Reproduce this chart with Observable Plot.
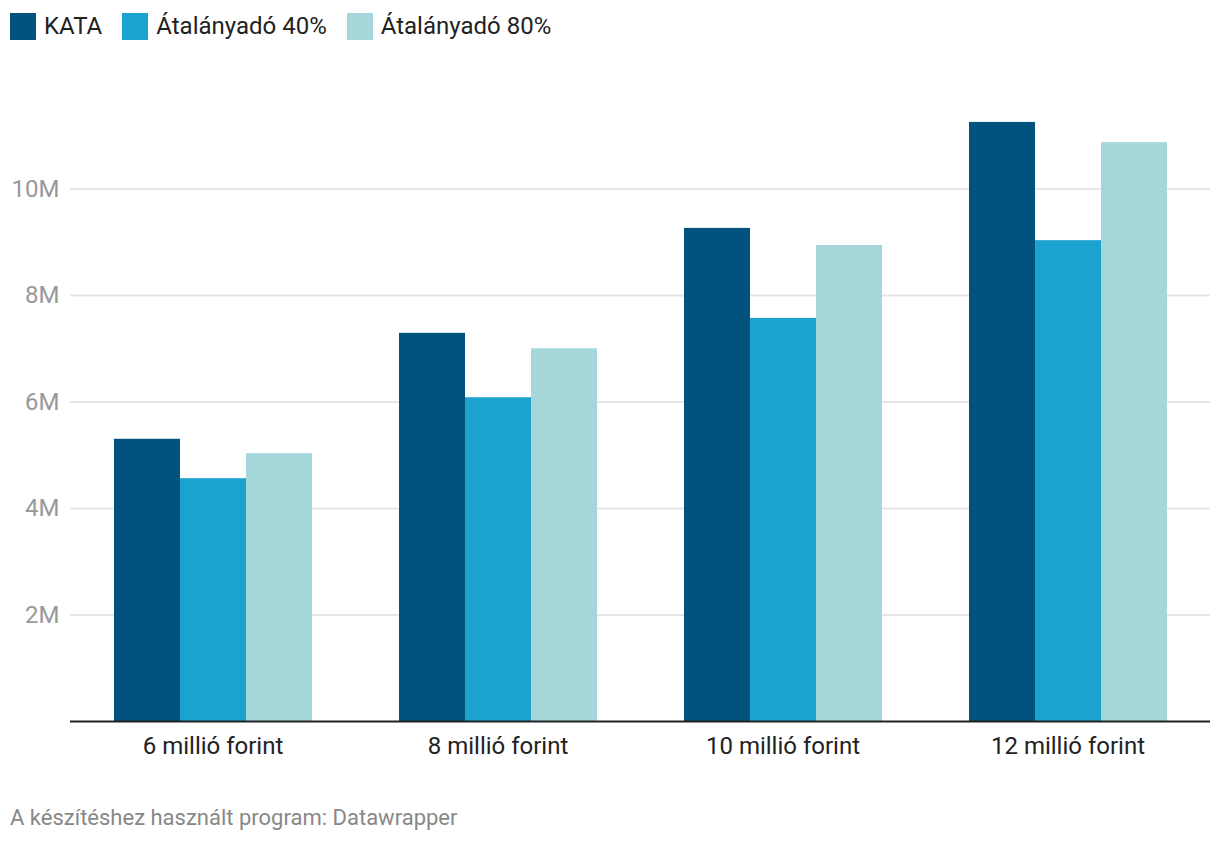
<!DOCTYPE html>
<html>
<head>
<meta charset="utf-8">
<script src="https://cdn.jsdelivr.net/npm/d3@7"></script>
<script src="https://cdn.jsdelivr.net/npm/@observablehq/plot@0.6"></script>
<style>
  body { margin: 0; background: #fff; font-family: Roboto, sans-serif; width: 1220px; height: 844px; position: relative; overflow: hidden; }
  #legend { position: absolute; left: 10px; top: 12px; height: 28px; display: flex; align-items: center; font-size: 24px; color: #222; }
  .item { display: flex; align-items: center; margin-right: 20px; }
  .sw { width: 26px; height: 27px; margin-right: 8px; }
  #chart { position: absolute; left: 0; top: 80px; }
  #footer { position: absolute; left: 10px; top: 805px; font-size: 22px; color: #888; }
</style>
</head>
<body>
<div id="legend"></div>
<div id="chart"></div>
<div id="footer">A készítéshez használt program: Datawrapper</div>
<script>
const categories = ["6 millió forint", "8 millió forint", "10 millió forint", "12 millió forint"];
const series = ["KATA", "Átalányadó 40%", "Átalányadó 80%"];
const colors = ["#01527c", "#1ba2ce", "#a5d7da"];
const kata = [5.30, 7.29, 9.26, 11.25];
const atalany40 = [4.56, 6.08, 7.57, 9.03];
const atalany80 = [5.03, 7.00, 8.94, 10.87];
const yTicks = [2, 4, 6, 8, 10];

const values = [kata, atalany40, atalany80];
const data = [];
categories.forEach((c, i) => series.forEach((s, j) => data.push({cat: c, series: s, value: values[j][i]})));

const legend = document.getElementById("legend");
series.forEach((s, j) => {
  const it = document.createElement("div");
  it.className = "item";
  it.innerHTML = `<div class="sw" style="background:${colors[j]}"></div><span>${s}</span>`;
  legend.appendChild(it);
});

const chart = Plot.plot({
  width: 1220,
  height: 700,
  marginLeft: 69,
  marginRight: 10,
  marginTop: 2,
  marginBottom: 59,
  style: { fontFamily: "Roboto, sans-serif", background: "#fff" },
  fx: { domain: categories, padding: 0, label: null },
  x: { domain: series, paddingInner: 0, paddingOuter: 0.645, axis: null },
  y: { domain: [0, 12], label: null },
  color: { domain: series, range: colors },
  marks: [
    Plot.gridY(yTicks, { stroke: "#e5e5e5", strokeOpacity: 1, strokeWidth: 2, facet: "exclude" }),
    Plot.axisY(yTicks, { tickSize: 0, tickPadding: 11, fontSize: 24, fill: "#999", tickFormat: d => d + "M", label: null }),
    Plot.barY(data, { fx: "cat", x: "series", y: "value", fill: "series" }),
    Plot.ruleY([0], { stroke: "#222", strokeWidth: 2 }),
    Plot.axisFx({ anchor: "bottom", tickSize: 0, tickPadding: 15, fontSize: 24, fill: "#222", label: null })
  ]
});
document.getElementById("chart").appendChild(chart);
</script>
</body>
</html>
